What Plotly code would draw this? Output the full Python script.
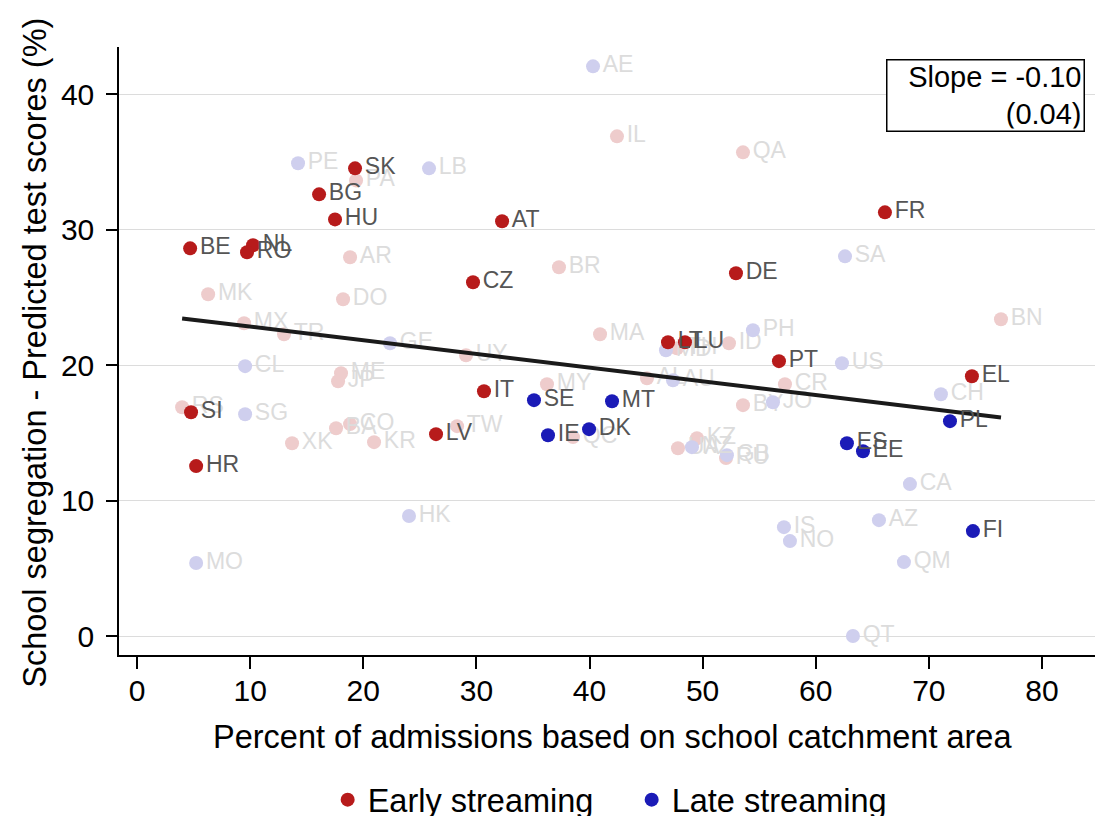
import plotly.graph_objects as go

# ---- data ----
early_codes = ["SK", "BG", "HU", "BE", "NL", "RO", "AT", "CZ", "FR", "DE", "LT", "LU",
               "PT", "EL", "IT", "LV", "SI", "HR"]
early_x = [19.27, 16.09, 17.50, 4.69, 10.25, 9.72, 32.27, 29.70, 66.12, 52.95, 46.94, 48.44,
           56.75, 73.81, 30.67, 26.43, 4.77, 5.22]
early_y = [34.54, 32.62, 30.77, 28.63, 28.86, 28.34, 30.63, 26.13, 31.29, 26.79, 21.70, 21.70,
           20.30, 19.19, 18.08, 14.91, 16.53, 12.55]

late_codes = ["SE", "MT", "IE", "DK", "ES", "EE", "PL", "FI"]
late_x = [35.09, 41.99, 36.33, 39.96, 62.76, 64.18, 71.87, 73.90]
late_y = [17.42, 17.34, 14.83, 15.28, 14.24, 13.65, 15.87, 7.75]

other_early_codes = ["PA", "IL", "QA", "AR", "BR", "MK", "DO", "MX", "TR", "UY", "MA", "TH",
                     "ID", "ME", "JP", "RS", "BA", "CO", "XK", "KR", "MY", "TW", "QC", "AL",
                     "CR", "BY", "UA", "KZ", "RU", "BN"]
other_early_x = [19.36, 42.43, 53.57, 18.83, 37.30, 6.28, 18.21, 9.46, 12.99, 29.08, 40.93, 47.73,
                 52.33, 18.03, 17.77, 3.98, 17.59, 18.83, 13.70, 20.95, 36.24, 28.29, 38.54, 45.08,
                 57.28, 53.57, 47.82, 49.50, 52.07, 76.38]
other_early_y = [33.65, 36.90, 35.72, 27.97, 27.23, 25.24, 24.87, 23.10, 22.29, 20.74, 22.29, 21.25,
                 21.62, 19.41, 18.82, 16.90, 15.35, 15.65, 14.24, 14.32, 18.60, 15.50, 14.69, 19.04,
                 18.60, 17.05, 13.87, 14.61, 13.14, 23.39]

other_late_codes = ["PE", "LB", "AE", "HK", "MO", "SA", "PH", "US", "CH", "CA", "AZ", "IS",
                    "NO", "QM", "QT", "JO", "GE", "CL", "SG", "MD", "AU", "NZ", "GB"]
other_late_x = [14.23, 25.81, 40.31, 24.04, 5.22, 62.59, 54.45, 62.32, 71.07, 68.33, 65.59, 57.19,
                57.72, 67.80, 63.29, 56.22, 22.36, 9.55, 9.55, 46.76, 47.38, 49.06, 52.15]
other_late_y = [34.91, 34.54, 42.07, 8.86, 5.39, 28.04, 22.58, 20.15, 17.86, 11.22, 8.56, 8.04,
                7.01, 5.46, 0.00, 17.27, 21.62, 19.93, 16.38, 21.11, 18.89, 13.95, 13.36]

fit_intercept = 23.86
fit_slope = -0.101
slope_text = "Slope = -0.10"
se_text = "(0.04)"

x_ticks = [0, 10, 20, 30, 40, 50, 60, 70, 80]
y_ticks = [0, 10, 20, 30, 40]

x_title = "Percent of admissions based on school catchment area"
y_title = "School segregation - Predicted test scores (%)"

# ---- styles ----
FONT = "Liberation Sans, Arial, sans-serif"
RED = "rgb(183,27,27)"
BLUE = "rgb(27,27,183)"
RED_F = "rgb(238,204,204)"
BLUE_F = "rgb(207,207,238)"
LBL = "rgb(85,85,85)"
LBL_F = "rgb(220,220,220)"

fig = go.Figure()


def add(xs, ys, codes, color, lblcolor, name, show):
    fig.add_trace(go.Scatter(
        x=xs, y=ys, text=codes, mode="markers+text", name=name, showlegend=show,
        textposition="middle right",
        marker=dict(color=color, size=14, line=dict(width=0)),
        textfont=dict(family=FONT, size=23, color=lblcolor),
        cliponaxis=False, hoverinfo="text+x+y",
    ))


add(other_early_x, other_early_y, other_early_codes, RED_F, LBL_F, "other early", False)
add(other_late_x, other_late_y, other_late_codes, BLUE_F, LBL_F, "other late", False)

all_x = early_x + late_x + other_early_x + other_late_x
x0, x1 = min(all_x), max(all_x)
fig.add_trace(go.Scatter(
    x=[x0, x1], y=[fit_intercept + fit_slope * x0, fit_intercept + fit_slope * x1],
    mode="lines", line=dict(color="rgb(26,26,26)", width=4), showlegend=False, hoverinfo="skip",
))

add(early_x, early_y, early_codes, RED, LBL, "Early streaming", True)
add(late_x, late_y, late_codes, BLUE, LBL, "Late streaming", True)

fig.add_annotation(
    xref="paper", yref="paper", x=0.9817, y=0.980, xanchor="right", yanchor="top",
    text=slope_text + "<br>" + se_text, align="right", showarrow=False,
    font=dict(family=FONT, size=29, color="black"), width=192, height=66,
    bordercolor="black", borderwidth=1.5, borderpad=2, bgcolor="white",
)

# axis titles as annotations for exact placement
fig.add_annotation(
    xref="paper", yref="paper", x=0.502, y=-0.135, xanchor="center", yanchor="middle",
    text=x_title, showarrow=False, font=dict(family=FONT, size=32.5, color="black"),
)
fig.add_annotation(
    xref="paper", yref="paper", x=-0.0854, y=0.497, xanchor="center", yanchor="middle",
    text=y_title, textangle=-90, showarrow=False, font=dict(family=FONT, size=32.5, color="black"),
)

fig.update_layout(
    width=1095, height=808,
    margin=dict(l=111, r=0, t=39, b=161, autoexpand=False),
    paper_bgcolor="white", plot_bgcolor="white",
    font=dict(family=FONT, size=30, color="black"),
    legend=dict(orientation="h", x=0.521, xanchor="center", y=-0.2385, yanchor="middle",
                font=dict(family=FONT, size=32.5, color="black"),
                traceorder="normal", itemwidth=30, entrywidth=259),
    showlegend=True,
)

fig.update_xaxes(
    range=[-1.6, 85.4], tickvals=x_ticks, showgrid=False, zeroline=False, automargin=False,
    showline=True, linecolor="black", linewidth=1.5,
    ticks="outside", ticklen=12, tickwidth=1.5, tickcolor="black", ticklabelstandoff=-4,
    tickfont=dict(family=FONT, size=30, color="black"),
)
fig.update_yaxes(
    range=[-1.4, 43.5], tickvals=y_ticks, showgrid=True, gridcolor="rgb(220,220,220)", gridwidth=1,
    zeroline=False, showline=True, linecolor="black", linewidth=1.5, automargin=False,
    ticks="outside", ticklen=11, tickwidth=1.5, tickcolor="black", ticklabelstandoff=6,
    tickfont=dict(family=FONT, size=30, color="black"),
)

fig.write_html("out.html")
